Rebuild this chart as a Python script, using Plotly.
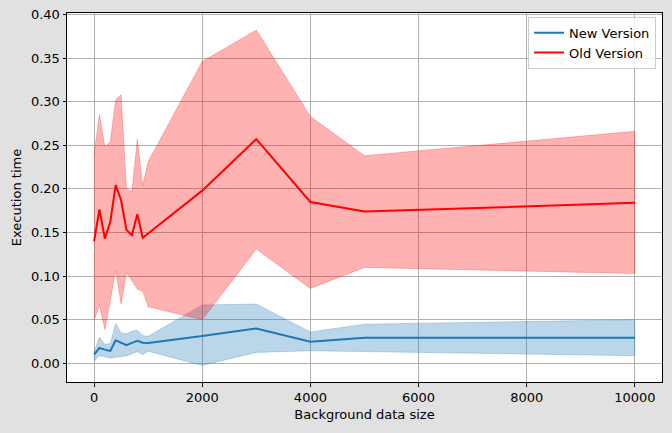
import plotly.graph_objects as go

sizes = [0, 100, 200, 300, 400, 500, 600, 700, 800, 900, 1000, 2000, 3000, 4000, 5000, 10000]

new_mean = [0.010, 0.0177, 0.0158, 0.0142, 0.0265, 0.0235, 0.0208, 0.0235, 0.0258, 0.0238, 0.0235, 0.0315, 0.0401, 0.0248, 0.0294, 0.0294]
new_upper = [0.013, 0.030, 0.022, 0.0227, 0.0458, 0.035, 0.034, 0.037, 0.038, 0.032, 0.031, 0.067, 0.068, 0.036, 0.045, 0.050]
new_lower = [0.0027, 0.009, 0.0073, 0.006, 0.0073, 0.008, 0.0085, 0.011, 0.0135, 0.010, 0.014, -0.0023, 0.0126, 0.0145, 0.0138, 0.0088]

old_mean = [0.140, 0.1764, 0.143, 0.162, 0.2044, 0.187, 0.153, 0.147, 0.171, 0.144, 0.149, 0.198, 0.257, 0.185, 0.174, 0.184]
old_upper = [0.240, 0.285, 0.248, 0.254, 0.302, 0.308, 0.200, 0.197, 0.257, 0.204, 0.231, 0.346, 0.382, 0.283, 0.238, 0.266]
old_lower = [0.049, 0.067, 0.039, 0.072, 0.107, 0.068, 0.104, 0.095, 0.085, 0.083, 0.065, 0.050, 0.131, 0.086, 0.110, 0.103]

x_ticks = [0, 2000, 4000, 6000, 8000, 10000]
x_tick_labels = ["0", "2000", "4000", "6000", "8000", "10000"]
y_ticks = [0.00, 0.05, 0.10, 0.15, 0.20, 0.25, 0.30, 0.35, 0.40]

BLUE = "#1f77b4"
RED = "#ff0000"
FS = 13

fig = go.Figure()

def band(x, lo, hi, rgba_fill, rgba_edge):
    return go.Scatter(
        x=list(x) + list(x)[::-1],
        y=list(hi) + list(lo)[::-1],
        fill="toself",
        fillcolor=rgba_fill,
        line=dict(color=rgba_edge, width=0.8),
        mode="lines",
        hoverinfo="skip",
        showlegend=False,
    )

fig.add_trace(band(sizes, new_lower, new_upper, "rgba(31,119,180,0.3)", "rgba(31,119,180,0.3)"))
fig.add_trace(band(sizes, old_lower, old_upper, "rgba(255,0,0,0.3)", "rgba(255,0,0,0.3)"))

fig.add_trace(go.Scatter(x=sizes, y=new_mean, mode="lines", name="New Version",
                         line=dict(color=BLUE, width=2)))
fig.add_trace(go.Scatter(x=sizes, y=old_mean, mode="lines", name="Old Version",
                         line=dict(color=RED, width=2)))

axis_common = dict(
    showgrid=True, gridcolor="#b0b0b0", gridwidth=0.8,
    showline=True, linecolor="black", linewidth=1, mirror=True,
    ticks="outside", ticklen=3.5, tickwidth=1, tickcolor="black",
    zeroline=False, automargin=False,
    tickfont=dict(family="DejaVu Sans", size=FS, color="black"),
)

fig.update_layout(
    width=672, height=433,
    paper_bgcolor="#e1e1e1",
    plot_bgcolor="white",
    margin=dict(l=67, r=10, t=13, b=51),
    font=dict(family="DejaVu Sans", size=FS, color="black"),
    xaxis=dict(
        range=[-500, 10500], tickvals=x_ticks, ticktext=x_tick_labels,
        title=dict(text="Background data size", font=dict(size=FS), standoff=5),
        **axis_common,
    ),
    yaxis=dict(
        range=[-0.0213, 0.4016], tickvals=y_ticks, tickformat=".2f",
        title=dict(text="Execution time", font=dict(size=FS), standoff=6),
        **axis_common,
    ),
    legend=dict(
        x=0.99, y=0.99, xanchor="right", yanchor="top",
        bgcolor="rgba(255,255,255,0.8)", bordercolor="#cccccc", borderwidth=1,
        font=dict(size=FS), itemwidth=30,
    ),
    showlegend=True,
)

fig.write_html(
    "out.html",
    config={"displayModeBar": False},
    post_script="document.body.style.margin='0';document.body.style.overflow='hidden';",
)
